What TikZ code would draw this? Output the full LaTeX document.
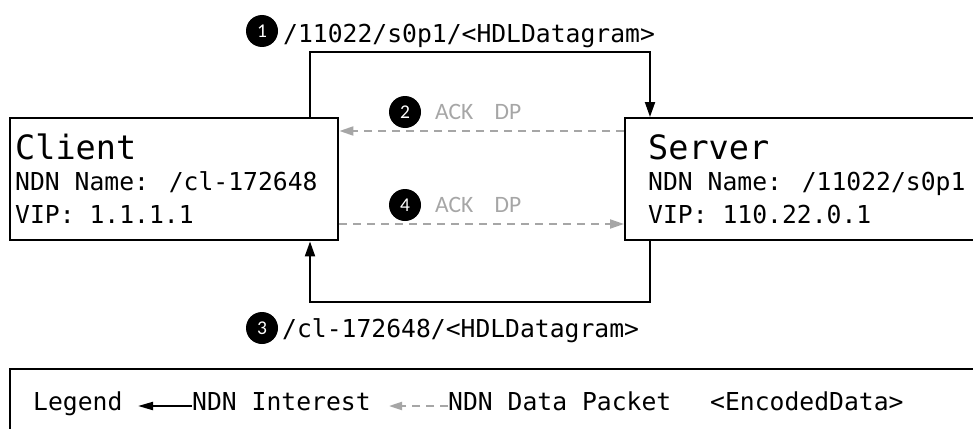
\documentclass[tikz,border=0pt]{standalone}
\usepackage{fontspec}
\newfontfamily\monofam{DejaVu Sans Mono}
\newfontfamily\calfam{Carlito}
\usetikzlibrary{arrows.meta}
\definecolor{dpgray}{RGB}{166,166,166}
\tikzset{
  box/.style={draw=black, line width=2.4pt, fill=white, inner sep=0pt, anchor=north west},
  txt/.style={inner sep=0pt, anchor=base west, font=\monofam\fontsize{24.7}{30}\selectfont},
  bigtxt/.style={inner sep=0pt, anchor=base west, font=\monofam\fontsize{33.5}{40}\selectfont},
  acktxt/.style={inner sep=0pt, anchor=base west, text=dpgray, font=\calfam\fontsize{23.5}{28}\selectfont},
  numdot/.style={circle, fill=black, inner sep=0pt, minimum size=32pt, text=white, font=\calfam\fontsize{19.5}{22}\selectfont},
  interest/.style={draw=black, line width=2pt, -{Triangle[length=15pt,width=10pt]}},
  datapk/.style={draw=dpgray, line width=2pt, dash pattern=on 8pt off 6pt, -{Triangle[length=14pt,width=9pt]}},
}
\begin{document}
\begin{tikzpicture}[x=1pt,y=-1pt]
\useasboundingbox (0,0) rectangle (973,428);
\clip (0,0) rectangle (973,428);
% boxes
\node[box, minimum width=328pt, minimum height=122pt] (client) at (9,117) {};
\node[box, minimum width=360pt, minimum height=122pt] (server) at (624,117) {};
\node[box, minimum width=980pt, minimum height=80pt] (legend) at (9,368) {};
% box texts
\node[bigtxt] (cname) at (15,159) {Client};
\node[txt] (cndn) at (15,190) {NDN Name: /cl-172648};
\node[txt] (cvip) at (15,223) {VIP: 1.1.1.1};
\node[bigtxt] (sname) at (648,159) {Server};
\node[txt] (sndn) at (648,190) {NDN Name: /11022/s0p1};
\node[txt] (svip) at (648,223) {VIP: 110.22.0.1};
% routing coordinates
\coordinate (lx) at (310,52);
\coordinate (rx) at (650,52);
\coordinate (lb) at (310,302);
\coordinate (rb) at (650,302);
\coordinate (d2) at (0,131);
\coordinate (d4) at (0,224);
% connectors
\draw[interest] (lx |- client.north) -- (lx) -- (rx) -- (rx |- server.north);
\draw[interest] (rb |- server.south) -- (rb) -- (lb) -- (lb |- client.south);
\draw[datapk] (server.west |- d2) -- (client.east |- d2);
\draw[datapk] (client.east |- d4) -- (server.west |- d4);
% labels
\node[numdot] (n1) at (262,31) {1};
\node[txt] (l1) at (283,43) {/11022/s0p1/<HDLDatagram>};
\node[numdot] (n3) at (262,328) {3};
\node[txt] (l3) at (282,337) {/cl-172648/<HDLDatagram>};
\node[numdot] (n2) at (405,112) {2};
\node[acktxt] (a2) at (435,119) {ACK\ \hspace{16pt}DP};
\node[numdot] (n4) at (405,205) {4};
\node[acktxt] (a4) at (435,212) {ACK\ \hspace{16pt}DP};
% legend
\node[txt] (lg) at (33,410) {Legend};
\node[txt] (lgi) at (192,410) {NDN Interest};
\node[txt] (lgd) at (448,410) {NDN Data Packet};
\node[txt] (lge) at (710,410) {<EncodedData>};
\coordinate (la1) at (138,406);
\coordinate (la2) at (389,406);
\draw[draw=black, line width=2pt, -{Triangle[length=15pt,width=8pt]}] (lgi.west |- la1) -- (la1);
\draw[draw=dpgray, line width=2pt, dash pattern=on 8pt off 6pt, -{Triangle[length=13pt,width=8pt]}] (lgd.west |- la2) -- (la2);
\end{tikzpicture}
\end{document}
